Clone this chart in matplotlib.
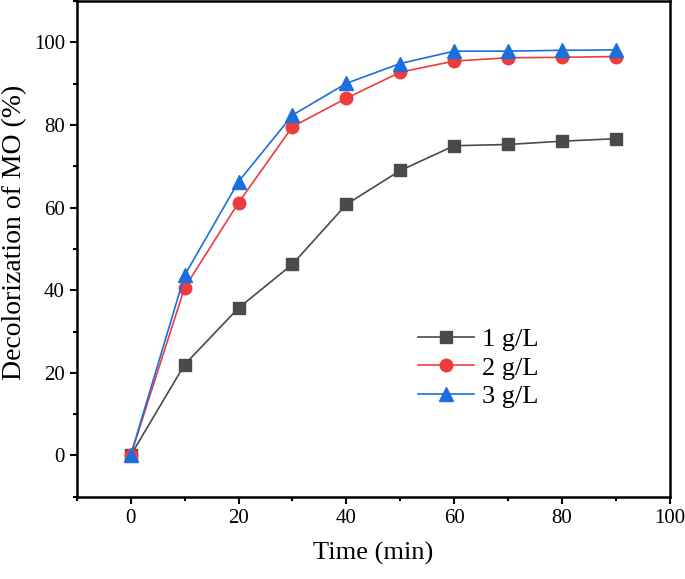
import matplotlib
matplotlib.use("Agg")
import matplotlib.pyplot as plt
from matplotlib.ticker import MultipleLocator

plt.rcParams['font.family'] = ['Liberation Serif', 'DejaVu Serif']

time = [0, 10, 20, 30, 40, 50, 60, 70, 80, 90]
dose_1 = [0, 22.0, 35.7, 46.3, 60.8, 69.0, 75.0, 75.3, 76.1, 76.7]
dose_2 = [0, 40.6, 61.2, 79.6, 86.5, 92.8, 95.5, 96.3, 96.4, 96.6]
dose_3 = [0, 43.6, 66.3, 82.4, 90.1, 94.9, 97.9, 97.9, 98.1, 98.2]
labels = ["1 g/L", "2 g/L", "3 g/L"]

fig = plt.figure(figsize=(6.85, 5.79), dpi=100)
ax = fig.add_axes([0.112, 0.142, 0.866, 0.856])

ax.plot(time, dose_1, color='#4a4a4a', marker='s', markersize=8.5, lw=1.2, label=labels[0])
ax.plot(time, dose_2, color='#ee3b3b', marker='o', markersize=9, lw=1.2, label=labels[1])
ax.plot(time, dose_3, color='#1a6fdc', marker='^', markersize=9.5, lw=1.2, label=labels[2])

ax.set_xlim(-10, 100)
ax.set_ylim(-10, 110)
ax.xaxis.set_major_locator(MultipleLocator(20))
ax.xaxis.set_minor_locator(MultipleLocator(10))
ax.yaxis.set_major_locator(MultipleLocator(20))
ax.yaxis.set_minor_locator(MultipleLocator(10))
ax.tick_params(which='both', direction='out', labelsize=15, width=1.5)
ax.tick_params(which='major', length=5)
ax.tick_params(which='minor', length=3)
for s in ax.spines.values():
    s.set_linewidth(1.8)

ax.set_xlabel("Time (min)", fontsize=19, labelpad=10)
ax.set_ylabel("Decolorization of MO (%)", fontsize=20)
ax.yaxis.set_label_coords(-0.083, 0.534)

ax.legend(loc='center left', bbox_to_anchor=(0.536, 0.26), frameon=False,
          fontsize=19, handlelength=2.1, handletextpad=0.3, labelspacing=0.2)

fig.savefig("out.png", dpi=100)
